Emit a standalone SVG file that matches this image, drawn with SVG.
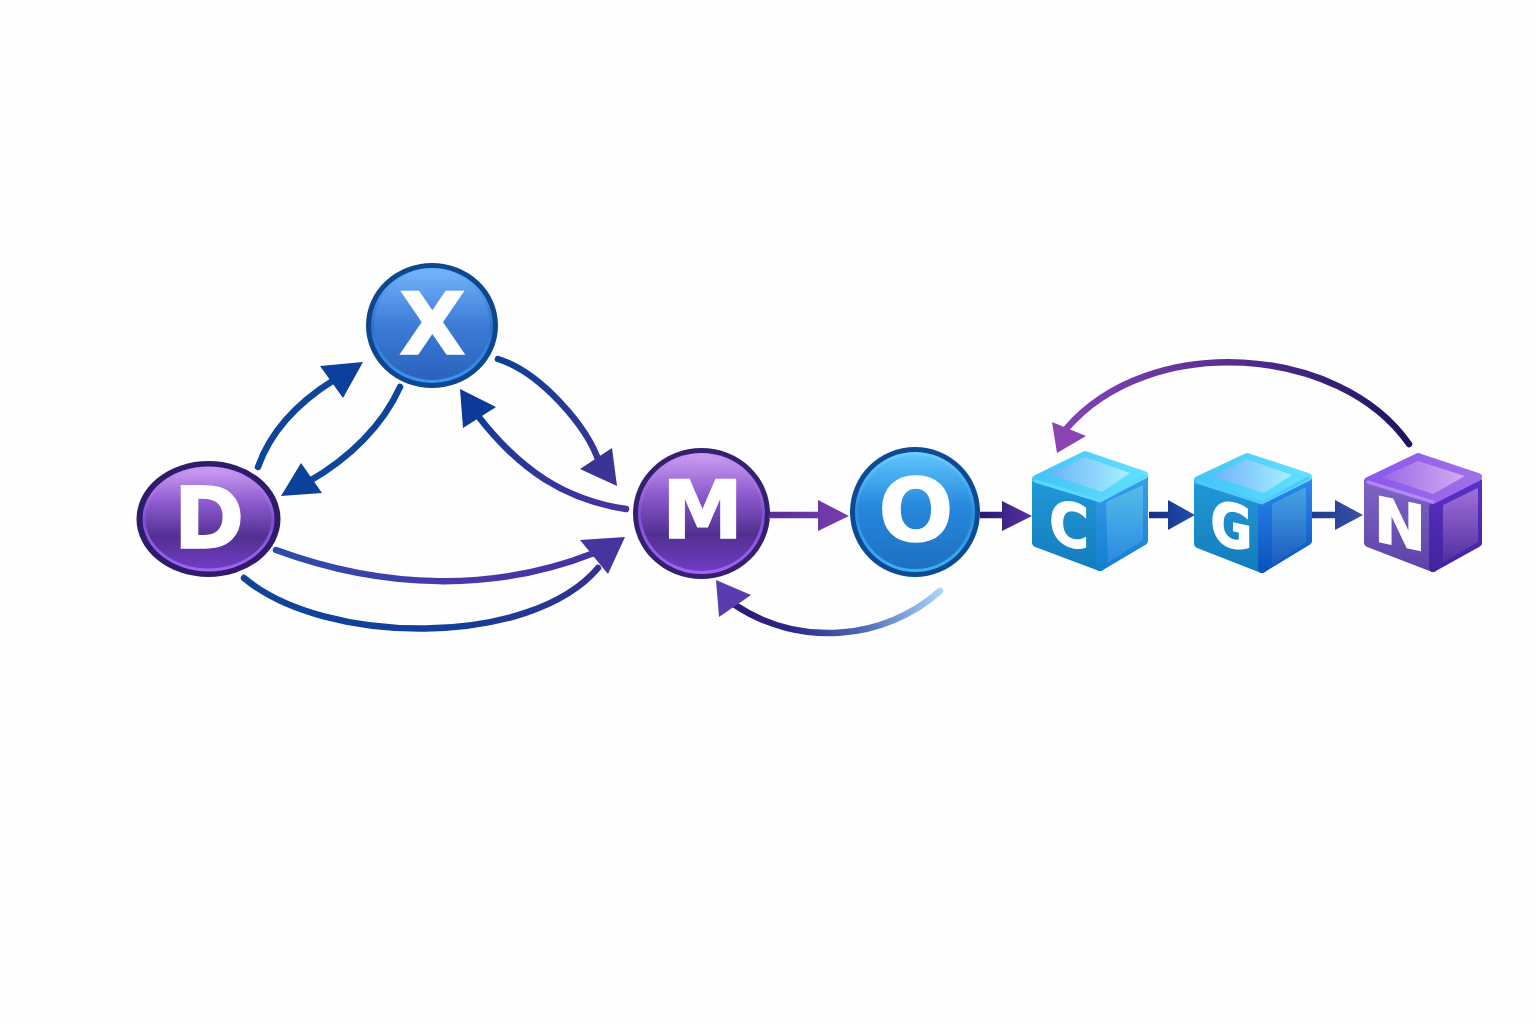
<svg xmlns="http://www.w3.org/2000/svg" width="1536" height="1024" viewBox="0 0 1536 1024">
<style>
.ln{fill:none;stroke-width:6.500;stroke-linecap:round}
.st{fill:none;stroke-width:6.500}
.lt{font-family:"DejaVu Sans","Liberation Sans",sans-serif;font-weight:700;fill:#fff;stroke:#fff;stroke-width:1.500;text-anchor:middle}
.rj{stroke-linejoin:round;stroke-width:8}
.e{fill:none;stroke-width:3;stroke-linecap:round;stroke-linejoin:round}
</style>
<defs>
<linearGradient id="pf" x1="0" y1="0" x2="0" y2="1"><stop offset="0" stop-color="#c99bf2"/><stop offset=".35" stop-color="#8a58cc"/><stop offset=".68" stop-color="#523092"/><stop offset="1" stop-color="#6f3cc4"/></linearGradient>
<linearGradient id="pr" x1="0" y1="0" x2="0" y2="1"><stop offset="0" stop-color="#c898f0"/><stop offset=".5" stop-color="#7f4fd0"/><stop offset="1" stop-color="#a264f4"/></linearGradient>
<linearGradient id="xf" x1="0" y1="0" x2="0" y2="1"><stop offset="0" stop-color="#73b2fb"/><stop offset=".5" stop-color="#3c7cd6"/><stop offset="1" stop-color="#2a62bd"/></linearGradient>
<linearGradient id="xr" x1="0" y1="0" x2="0" y2="1"><stop offset="0" stop-color="#6cb8fb"/><stop offset=".5" stop-color="#2a70c8"/><stop offset="1" stop-color="#3b98f2"/></linearGradient>
<linearGradient id="of" x1="0" y1="0" x2="0" y2="1"><stop offset="0" stop-color="#5cc4fc"/><stop offset=".45" stop-color="#2788dc"/><stop offset="1" stop-color="#1d70c2"/></linearGradient>
<linearGradient id="or" x1="0" y1="0" x2="0" y2="1"><stop offset="0" stop-color="#6ed0ff"/><stop offset=".5" stop-color="#2c8ee0"/><stop offset="1" stop-color="#3cb0f6"/></linearGradient>
<linearGradient id="cl" x1="0" y1="0" x2="0" y2="1"><stop offset="0" stop-color="#2298d8"/><stop offset="1" stop-color="#137dbc"/></linearGradient>
<linearGradient id="ct" x1="0" y1="0" x2="1" y2="0"><stop offset="0" stop-color="#44c4f8"/><stop offset="1" stop-color="#62e0ff"/></linearGradient>
<linearGradient id="cp" x1="0" y1="0" x2="1" y2="0"><stop offset="0" stop-color="#6cb2f8"/><stop offset="1" stop-color="#a8f0ff"/></linearGradient>
<linearGradient id="cr" x1="0" y1="0" x2="0" y2="1"><stop offset="0" stop-color="#3a9cec"/><stop offset="1" stop-color="#1480d0"/></linearGradient>
<linearGradient id="ci" x1="0" y1="0" x2="0" y2="1"><stop offset="0" stop-color="#54bce8"/><stop offset="1" stop-color="#2c8ae2"/></linearGradient>
<linearGradient id="gr" x1="0" y1="0" x2="0" y2="1"><stop offset="0" stop-color="#2a88ee"/><stop offset="1" stop-color="#0c54c0"/></linearGradient>
<linearGradient id="gi" x1="0" y1="0" x2="0" y2="1"><stop offset="0" stop-color="#46a6e4"/><stop offset="1" stop-color="#1c58c0"/></linearGradient>
<linearGradient id="nl" x1="0" y1="0" x2="0" y2="1"><stop offset="0" stop-color="#7c66c4"/><stop offset="1" stop-color="#5e42aa"/></linearGradient>
<linearGradient id="nt" x1="0" y1="0" x2="1" y2="0"><stop offset="0" stop-color="#8a58ee"/><stop offset="1" stop-color="#a070e8"/></linearGradient>
<linearGradient id="np" x1="0" y1="0" x2="1" y2="0"><stop offset="0" stop-color="#9a68e8"/><stop offset="1" stop-color="#d4aaf0"/></linearGradient>
<linearGradient id="nr" x1="0" y1="0" x2="0" y2="1"><stop offset="0" stop-color="#5a30c8"/><stop offset="1" stop-color="#44249c"/></linearGradient>
<linearGradient id="ni" x1="0" y1="0" x2="0" y2="1"><stop offset="0" stop-color="#a070d8"/><stop offset="1" stop-color="#502ea0"/></linearGradient>
<linearGradient id="a3" gradientUnits="userSpaceOnUse" x1="498" y1="359" x2="605" y2="480"><stop offset="0" stop-color="#0e3f96"/><stop offset="1" stop-color="#3d3297"/></linearGradient>
<linearGradient id="a4" gradientUnits="userSpaceOnUse" x1="626" y1="509" x2="470" y2="400"><stop offset="0" stop-color="#4c329f"/><stop offset="1" stop-color="#0c3c98"/></linearGradient>
<linearGradient id="a5" gradientUnits="userSpaceOnUse" x1="276" y1="550" x2="600" y2="555"><stop offset="0" stop-color="#2b4cab"/><stop offset=".6" stop-color="#4a38a8"/><stop offset="1" stop-color="#46329e"/></linearGradient>
<linearGradient id="a6" gradientUnits="userSpaceOnUse" x1="244" y1="578" x2="598" y2="568"><stop offset="0" stop-color="#0f4498"/><stop offset=".6" stop-color="#143e9a"/><stop offset="1" stop-color="#33308e"/></linearGradient>
<linearGradient id="a7" gradientUnits="userSpaceOnUse" x1="770" y1="515" x2="849" y2="515"><stop offset="0" stop-color="#5a2f9a"/><stop offset="1" stop-color="#7a3cb0"/></linearGradient>
<linearGradient id="a8" gradientUnits="userSpaceOnUse" x1="980" y1="515" x2="1032" y2="515"><stop offset="0" stop-color="#241a70"/><stop offset="1" stop-color="#5a32a4"/></linearGradient>
<linearGradient id="a9" gradientUnits="userSpaceOnUse" x1="940" y1="591" x2="735" y2="605"><stop offset="0" stop-color="#a8d4fc"/><stop offset=".4" stop-color="#4a68b4"/><stop offset=".75" stop-color="#2a2688"/><stop offset="1" stop-color="#2c1c74"/></linearGradient>
<linearGradient id="a10" gradientUnits="userSpaceOnUse" x1="1149" y1="515" x2="1195" y2="515"><stop offset="0" stop-color="#182c84"/><stop offset="1" stop-color="#2050ac"/></linearGradient>
<linearGradient id="a11" gradientUnits="userSpaceOnUse" x1="1312" y1="515" x2="1363" y2="515"><stop offset="0" stop-color="#1c3c8c"/><stop offset="1" stop-color="#3a50a8"/></linearGradient>
<linearGradient id="a12" gradientUnits="userSpaceOnUse" x1="1409" y1="444" x2="1060" y2="430"><stop offset="0" stop-color="#1c1460"/><stop offset=".45" stop-color="#4f2a8e"/><stop offset="1" stop-color="#8444b4"/></linearGradient>
</defs>
<rect width="1536" height="1024" fill="#fefefe"/>
<g id="connectors">
<path class="ln" stroke="#0e459a" d="M258 467C270 433 297 403 334 380"/>
<polygon fill="#0d409c" points="363,362 320,366 343,398"/>
<path class="ln" stroke="#0e459a" d="M400 387C383 425 350 458 308 482"/>
<polygon fill="#0c4099" points="281,496 301,463 322,493"/>
<path class="ln" stroke="url(#a3)" d="M498 359C540 372 587 426 599 462"/>
<polygon fill="#3a3495" points="617,486 612,448 580,469"/>
<path class="ln" stroke="url(#a4)" d="M626 509C565 500 520 470 478 416"/>
<polygon fill="#0d3a98" points="460,389 496,407 463,428"/>
<path class="ln" stroke="url(#a5)" d="M276 550C385 590 495 592 594 553"/>
<polygon fill="#47349f" points="625,537 580,540 608,574"/>
<path class="ln" stroke="url(#a6)" d="M244 578C325 646 530 648 598 568"/>
<path class="st" stroke="url(#a7)" d="M770 515H820"/>
<polygon fill="url(#a7)" points="849,516 818,500 818,531"/>
<path class="st" stroke="url(#a8)" d="M980 515H1004"/>
<polygon fill="url(#a8)" points="1032,516 1002,501 1002,531"/>
<path class="ln" stroke="url(#a9)" d="M940 591C885 640 800 648 735 605"/>
<polygon fill="#5a3bb0" points="716,580 751,595 719,617"/>
<path class="st" stroke="url(#a10)" d="M1149 515H1170"/>
<polygon fill="url(#a10)" points="1195,515 1168,500 1168,530"/>
<path class="st" stroke="url(#a11)" d="M1312 515H1337"/>
<polygon fill="url(#a11)" points="1363,515 1335,500 1335,530"/>
<path class="ln" stroke="url(#a12)" d="M1409 444C1340 345 1150 331 1066 429"/>
<polygon fill="#8a44b4" points="1052,422 1086,436 1057,453"/>
</g>
<g id="node-D">
<ellipse cx="208.500" cy="519" rx="72" ry="58" fill="#2f1b6c"/>
<ellipse cx="208.500" cy="519" rx="66" ry="52.500" fill="url(#pr)"/>
<ellipse cx="208.500" cy="519" rx="63" ry="49.500" fill="url(#pf)"/>
<text class="lt" x="209" y="548" font-size="85">D</text>
</g>
<g id="node-X">
<ellipse cx="432" cy="325.500" rx="66" ry="62.500" fill="#0f4690"/>
<ellipse cx="432" cy="325.500" rx="61" ry="57.500" fill="url(#xr)"/>
<ellipse cx="432" cy="325.500" rx="58" ry="54.500" fill="url(#xf)"/>
<text class="lt" x="432.500" y="354" font-size="86">X</text>
</g>
<g id="node-M">
<ellipse cx="701.500" cy="513.500" rx="68.500" ry="65.500" fill="#33206e"/>
<ellipse cx="701.500" cy="513.500" rx="63.500" ry="60.500" fill="url(#pr)"/>
<ellipse cx="701.500" cy="513.500" rx="60.500" ry="57.500" fill="url(#pf)"/>
<text class="lt" x="702.500" y="538" font-size="81">M</text>
</g>
<g id="node-O">
<ellipse cx="915" cy="512" rx="65" ry="65" fill="#0c4a92"/>
<ellipse cx="915" cy="512" rx="60" ry="60" fill="url(#or)"/>
<ellipse cx="915" cy="512" rx="57" ry="57" fill="url(#of)"/>
<text class="lt" x="916" y="541" font-size="88">O</text>
</g>
<g id="node-C">
<polygon class="rj" fill="url(#cl)" stroke="url(#cl)" points="1036,482 1100,504 1100,567 1036,543"/>
<polygon class="rj" fill="url(#cr)" stroke="url(#cr)" points="1100,504 1144,478 1144,541 1100,567"/>
<polygon class="rj" fill="url(#ct)" stroke="url(#ct)" points="1085,455 1144,475 1100,498 1036,479"/>
<polygon fill="url(#cp)" points="1049,474 1085,457 1130,473 1102,492"/>
<polygon fill="url(#ci)" points="1106,502 1143,485 1143,540 1108,563"/>
<path class="e" stroke="#5ad8ff" d="M1036 481L1100 501L1144 476"/>
<text class="lt" transform="translate(1069 546) skewY(12) scale(.9 1)" font-size="60">C</text>
</g>
<g id="node-G">
<polygon class="rj" fill="url(#cl)" stroke="url(#cl)" points="1198,482 1262,506 1262,569 1198,544"/>
<polygon class="rj" fill="url(#gr)" stroke="url(#gr)" points="1262,506 1308,480 1308,541 1262,569"/>
<polygon class="rj" fill="url(#ct)" stroke="url(#ct)" points="1247,457 1308,477 1262,500 1198,480"/>
<polygon fill="url(#cp)" points="1212,476 1247,459 1292,475 1264,493"/>
<polygon fill="url(#gi)" points="1272,504 1306,487 1306,542 1272,566"/>
<path class="e" stroke="#4cc8fa" d="M1198 482L1262 503L1308 478"/>
<text class="lt" transform="translate(1231.500 547) skewY(12) scale(.85 1)" font-size="60">G</text>
</g>
<g id="node-N">
<polygon class="rj" fill="url(#nl)" stroke="url(#nl)" points="1368,482 1433,507 1433,568 1368,543"/>
<polygon class="rj" fill="url(#nr)" stroke="url(#nr)" points="1433,507 1478,481 1478,543 1433,568"/>
<polygon class="rj" fill="url(#nt)" stroke="url(#nt)" points="1418,457 1478,477 1433,500 1368,481"/>
<polygon fill="url(#np)" points="1382,477 1418,461 1465,476 1433,494"/>
<polygon fill="url(#ni)" points="1443,505 1478,488 1478,542 1443,563"/>
<path class="e" stroke="#b48af0" d="M1368 482L1433 502"/>
<text class="lt" transform="translate(1400 546) skewY(12)" font-size="62">N</text>
</g>
</svg>
